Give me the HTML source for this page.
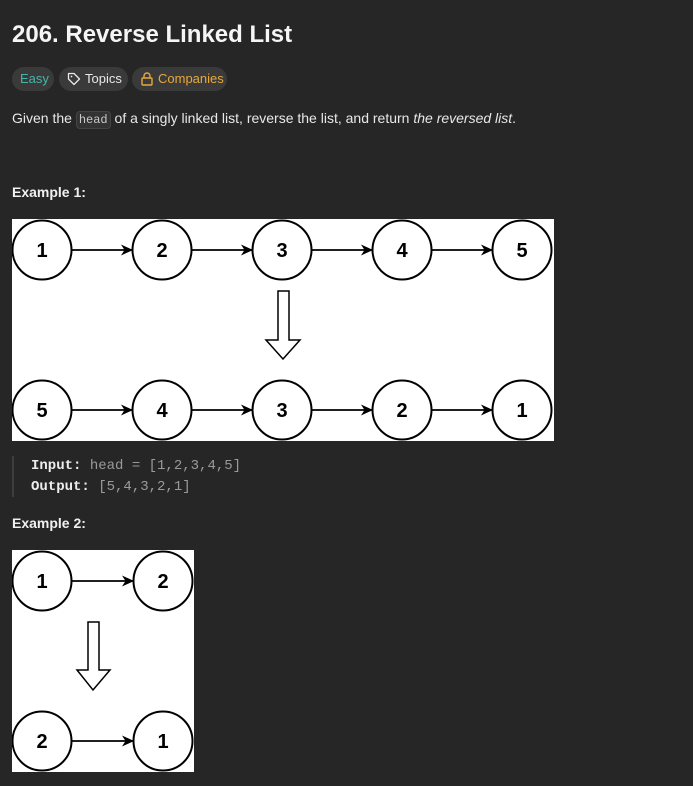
<!DOCTYPE html>
<html><head><meta charset="utf-8"><style>
html,body{margin:0;padding:0;background:#262626;width:693px;height:786px;overflow:hidden;font-family:"Liberation Sans",sans-serif;color:#eff1f6}
.a{position:absolute}
h1{position:absolute;left:12px;top:20px;margin:0;font-size:24px;font-weight:bold;color:#f5f5f5;line-height:30px}
.pill{position:absolute;top:67px;height:24px;border-radius:12px;background:#3a3a3a;font-size:13px;line-height:24px;box-sizing:border-box}
.p{position:absolute;left:12px;top:108px;font-size:14px;line-height:20px;color:#e8e8e8;margin:0}
code.inl{font-family:"Liberation Mono",monospace;font-size:12px;background:#333;border:1px solid #444;border-radius:4px;padding:1px 2px;color:#c8c8c8}
.ex{position:absolute;left:12px;font-size:14px;font-weight:bold;color:#f0f0f0}
pre{position:absolute;left:12px;top:456px;margin:0;border-left:2px solid #3e3e3e;padding-left:17px;font-family:"Liberation Mono",monospace;font-size:14px;line-height:21px;color:#9a9a9a;height:41px;padding-top:0}
pre b{color:#eeeeee}
svg text{font-family:"Liberation Sans",sans-serif;font-weight:bold;font-size:20px;fill:#000}
</style></head><body>
<h1>206. Reverse Linked List</h1>
<div class="pill" style="left:12px;width:42px;color:#46b5a8;padding-left:8px">Easy</div>
<div class="pill" style="left:59px;width:69px;color:#e8e8e8;padding-left:26px">
<svg class="a" style="left:8px;top:5px" width="14" height="14" viewBox="0 0 14 14"><path d="M1.5 1.5h5.5l5.5 5.5-5.5 5.5-5.5-5.5z" fill="none" stroke="#e8e8e8" stroke-width="1.3" stroke-linejoin="round"/><circle cx="4.5" cy="4.5" r="0.9" fill="#e8e8e8"/></svg>Topics</div>
<div class="pill" style="left:132px;width:95px;color:#e7a93b;padding-left:26px">
<svg class="a" style="left:9px;top:5px" width="12" height="14" viewBox="0 0 12 14"><path d="M3 6V4a3 3 0 0 1 6 0v2" fill="none" stroke="#e7a93b" stroke-width="1.4"/><rect x="1" y="6" width="10" height="7" rx="1" fill="none" stroke="#e7a93b" stroke-width="1.4"/></svg>Companies</div>
<p class="p">Given the <code class="inl">head</code> of a singly linked list, reverse the list, and return <i>the reversed list</i>.</p>
<div class="ex" style="top:184px">Example 1:</div>
<svg class="a" style="left:12px;top:219px" width="542" height="222" viewBox="12 219 542 222">
<defs><marker id="ar" markerWidth="12" markerHeight="12" refX="11" refY="6" orient="auto" markerUnits="userSpaceOnUse"><path d="M0 0.5L12 6L0 11.5L3.5 6z" fill="#000"/></marker></defs>
<rect x="12" y="219" width="542" height="222" fill="#fff"/>
<g fill="#fff" stroke="#000" stroke-width="2">
<circle cx="42" cy="250" r="29.5"/><circle cx="162" cy="250" r="29.5"/><circle cx="282" cy="250" r="29.5"/><circle cx="402" cy="250" r="29.5"/><circle cx="522" cy="250" r="29.5"/>
<circle cx="42" cy="410" r="29.5"/><circle cx="162" cy="410" r="29.5"/><circle cx="282" cy="410" r="29.5"/><circle cx="402" cy="410" r="29.5"/><circle cx="522" cy="410" r="29.5"/>
</g>
<g stroke="#000" stroke-width="1.8" marker-end="url(#ar)">
<line x1="72" y1="250" x2="132" y2="250"/><line x1="192" y1="250" x2="252" y2="250"/><line x1="312" y1="250" x2="372" y2="250"/><line x1="432" y1="250" x2="492" y2="250"/>
<line x1="72" y1="410" x2="132" y2="410"/><line x1="192" y1="410" x2="252" y2="410"/><line x1="312" y1="410" x2="372" y2="410"/><line x1="432" y1="410" x2="492" y2="410"/>
</g>
<path d="M278 291H289V340H300L283 359L266 340H278Z" fill="#fff" stroke="#000" stroke-width="1.5"/>
<g text-anchor="middle">
<text x="42" y="257">1</text><text x="162" y="257">2</text><text x="282" y="257">3</text><text x="402" y="257">4</text><text x="522" y="257">5</text>
<text x="42" y="417">5</text><text x="162" y="417">4</text><text x="282" y="417">3</text><text x="402" y="417">2</text><text x="522" y="417">1</text>
</g></svg>
<pre><b>Input:</b> head = [1,2,3,4,5]
<b>Output:</b> [5,4,3,2,1]</pre>
<div class="ex" style="top:515px">Example 2:</div>
<svg class="a" style="left:12px;top:550px" width="182" height="222" viewBox="12 550 182 222">
<defs><marker id="ar2" markerWidth="12" markerHeight="12" refX="11" refY="6" orient="auto" markerUnits="userSpaceOnUse"><path d="M0 0.5L12 6L0 11.5L3.5 6z" fill="#000"/></marker></defs>
<rect x="12" y="550" width="182" height="222" fill="#fff"/>
<g fill="#fff" stroke="#000" stroke-width="2">
<circle cx="42" cy="581" r="29.5"/><circle cx="163" cy="581" r="29.5"/><circle cx="42" cy="741" r="29.5"/><circle cx="163" cy="741" r="29.5"/>
</g>
<g stroke="#000" stroke-width="1.8" marker-end="url(#ar2)">
<line x1="72" y1="581" x2="133" y2="581"/><line x1="72" y1="741" x2="133" y2="741"/>
</g>
<path d="M88 622H99V670H110L93 690L77 670H88Z" fill="#fff" stroke="#000" stroke-width="1.5"/>
<g text-anchor="middle">
<text x="42" y="588">1</text><text x="163" y="588">2</text><text x="42" y="748">2</text><text x="163" y="748">1</text>
</g></svg>
</body></html>
